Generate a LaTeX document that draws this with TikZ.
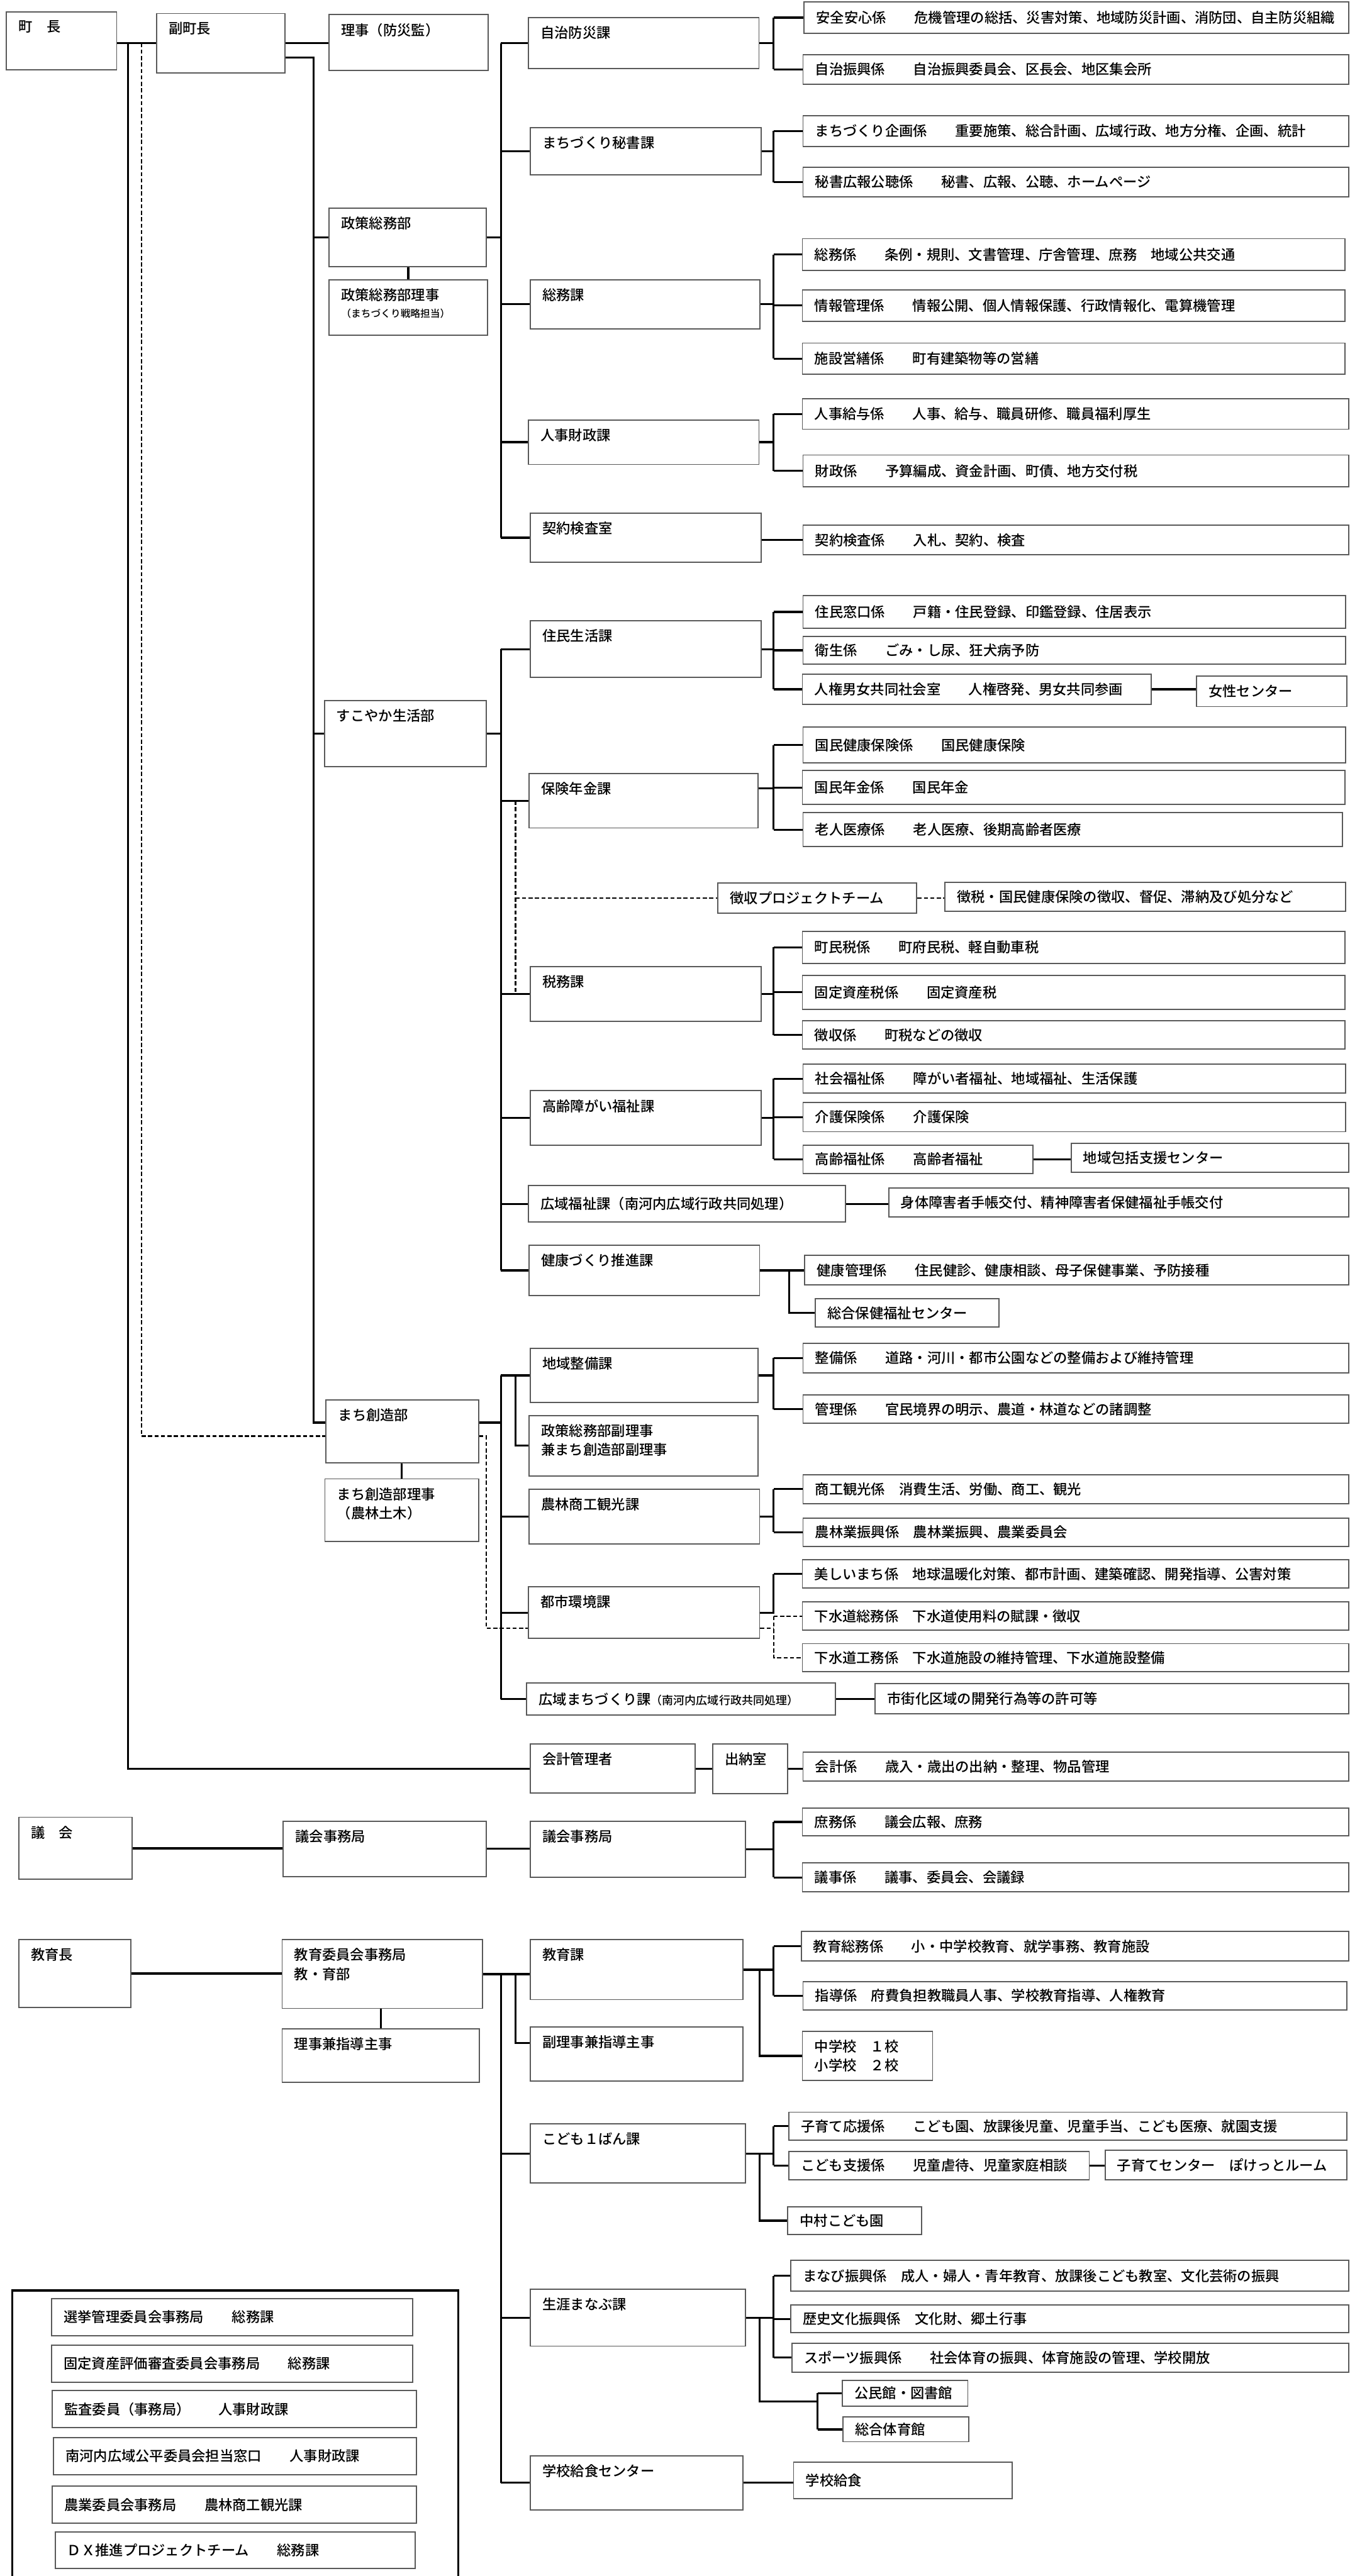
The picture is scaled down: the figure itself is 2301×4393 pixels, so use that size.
\documentclass[tikz,border=0pt]{standalone}
\usepackage{fontspec}
\setmainfont{Noto Sans CJK JP}[UprightFont=* Medium]
\usetikzlibrary{fit}
\newcommand{\smallnote}[1]{{\fontsize{4.8pt}{6pt}\selectfont #1}}
\newcommand{\midnote}[1]{{\fontsize{5.5pt}{7pt}\selectfont #1}}
\begin{document}
\begin{tikzpicture}[x=0.1mm, y=-0.1mm,
    font=\fontsize{6.8pt}{9.2pt}\selectfont,
    box/.style={draw=black!65, line width=0.2mm, inner sep=0pt},
    tl/.style={anchor=north west, inner sep=0pt, xshift=2.1mm, yshift=-1.5mm, align=left},
    ml/.style={anchor=west, inner sep=0pt, xshift=2.1mm, align=left},
    link/.style={line width=0.34mm},
    dlink/.style={line width=0.24mm, dash pattern=on 0.7mm off 0.4mm}]
    \useasboundingbox[fill=white] (0,0) rectangle (2301,4393);

    \node[box, fit={(11,20) (199,119)}, label={[tl]north west:町　長}] (chou) {};
    \node[box, fit={(267,23) (486,124)}, label={[tl]north west:副町長}] (fuku) {};
    \node[box, fit={(561,25) (832,120)}, label={[tl]north west:理事（防災監）}] (riji) {};
    \node[box, fit={(561,355) (829,455)}, label={[tl]north west:政策総務部}] (seisaku) {};
    \node[box, fit={(561,477) (831,572)}, label={[tl]north west:{政策総務部理事\\[-0.3mm]\smallnote{（まちづくり戦略担当）}}}] (sriji) {};
    \node[box, fit={(553,1195) (829,1307)}, label={[tl]north west:すこやか生活部}] (sukoyaka) {};
    \node[box, fit={(556,2387) (816,2495)}, label={[tl]north west:まち創造部}] (machi) {};
    \node[box, fit={(554,2522) (816,2629)}, label={[tl]north west:{まち創造部理事\\（農林土木）}}] (mriji) {};
    \node[box, fit={(32,3099) (225,3205)}, label={[tl]north west:議　会}] (gikai) {};
    \node[box, fit={(483,3106) (829,3200)}, label={[tl]north west:議会事務局}] (gjimu) {};
    \node[box, fit={(32,3308) (223,3423)}, label={[tl]north west:教育長}] (kyouikuchou) {};
    \node[box, fit={(481,3308) (823,3425)}, label={[tl]north west:{教育委員会事務局\\教・育部}}] (kiyoui) {};
    \node[box, fit={(481,3460) (817,3551)}, label={[tl]north west:理事兼指導主事}] (kriji) {};

    \node[box, fit={(901,30) (1294,117)}, label={[tl]north west:自治防災課}] (jichi) {};
    \node[box, fit={(904,218) (1298,298)}, label={[tl]north west:まちづくり秘書課}] (hisho) {};
    \node[box, fit={(904,477) (1296,561)}, label={[tl]north west:総務課}] (soumu) {};
    \node[box, fit={(901,716) (1294,792)}, label={[tl]north west:人事財政課}] (jinji) {};
    \node[box, fit={(904,875) (1298,959)}, label={[tl]north west:契約検査室}] (keiyaku) {};
    \node[box, fit={(904,1059) (1298,1155)}, label={[tl]north west:住民生活課}] (juumin) {};
    \node[box, fit={(902,1319) (1292,1412)}, label={[tl]north west:保険年金課}] (hoken) {};
    \node[box, fit={(904,1648) (1298,1742)}, label={[tl]north west:税務課}] (zeimu) {};
    \node[box, fit={(904,1860) (1298,1953)}, label={[tl]north west:高齢障がい福祉課}] (koureika) {};
    \node[box, fit={(901,2022) (1441,2084)}, label={[ml]west:広域福祉課（南河内広域行政共同処理）}] (kouikif) {};
    \node[box, fit={(902,2124) (1295,2209)}, label={[tl]north west:健康づくり推進課}] (kenkou) {};
    \node[box, fit={(904,2299) (1292,2392)}, label={[tl]north west:地域整備課}] (chiiki) {};
    \node[box, fit={(902,2414) (1292,2517)}, label={[tl]north west:{政策総務部副理事\\兼まち創造部副理事}}] (fukuriji) {};
    \node[box, fit={(902,2540) (1295,2633)}, label={[tl]north west:農林商工観光課}] (nourin) {};
    \node[box, fit={(901,2706) (1295,2794)}, label={[tl]north west:都市環境課}] (toshi) {};
    \node[box, fit={(898,2870) (1424,2925)}, label={[ml]west:広域まちづくり課\midnote{（南河内広域行政共同処理）}}] (kouikim) {};
    \node[box, fit={(904,2974) (1185,3058)}, label={[tl]north west:会計管理者}] (kaikeik) {};
    \node[box, fit={(904,3106) (1271,3201)}, label={[tl]north west:議会事務局}] (gjimu2) {};
    \node[box, fit={(904,3308) (1267,3410)}, label={[tl]north west:教育課}] (kyouikuka) {};
    \node[box, fit={(904,3457) (1267,3549)}, label={[tl]north west:副理事兼指導主事}] (fukuriji2) {};
    \node[box, fit={(904,3622) (1271,3723)}, label={[tl]north west:こども１ばん課}] (kodomo) {};
    \node[box, fit={(904,3904) (1271,4001)}, label={[tl]north west:生涯まなぶ課}] (shougai) {};
    \node[box, fit={(904,4188) (1267,4280)}, label={[tl]north west:学校給食センター}] (kyuushoku) {};

    \node[box, fit={(1371,3) (2299,57)}, label={[ml]west:安全安心係　　危機管理の総括、災害対策、地域防災計画、消防団、自主防災組織}] (anzen) {};
    \node[box, fit={(1369,93) (2299,144)}, label={[ml]west:自治振興係　　自治振興委員会、区長会、地区集会所}] (jishin) {};
    \node[box, fit={(1369,197) (2299,250)}, label={[ml]west:まちづくり企画係　　重要施策、総合計画、広域行政、地方分権、企画、統計}] (kikaku) {};
    \node[box, fit={(1369,285) (2299,336)}, label={[ml]west:秘書広報公聴係　　秘書、広報、公聴、ホームページ}] (hishokk) {};
    \node[box, fit={(1368,407) (2293,461)}, label={[ml]west:総務係　　条例・規則、文書管理、庁舎管理、庶務　地域公共交通}] (soumuk) {};
    \node[box, fit={(1368,494) (2293,548)}, label={[ml]west:情報管理係　　情報公開、個人情報保護、行政情報化、電算機管理}] (jouhou) {};
    \node[box, fit={(1368,585) (2293,638)}, label={[ml]west:施設営繕係　　町有建築物等の営繕}] (shisetsu) {};
    \node[box, fit={(1368,680) (2299,732)}, label={[ml]west:人事給与係　　人事、給与、職員研修、職員福利厚生}] (jinjik) {};
    \node[box, fit={(1369,776) (2299,830)}, label={[ml]west:財政係　　予算編成、資金計画、町債、地方交付税}] (zaisei) {};
    \node[box, fit={(1369,896) (2299,946)}, label={[ml]west:契約検査係　　入札、契約、検査}] (keiyakuk) {};
    \node[box, fit={(1369,1016) (2294,1071)}, label={[ml]west:住民窓口係　　戸籍・住民登録、印鑑登録、住居表示}] (madoguchi) {};
    \node[box, fit={(1369,1085) (2294,1133)}, label={[ml]west:衛生係　　ごみ・し尿、狂犬病予防}] (eisei) {};
    \node[box, fit={(1368,1150) (1963,1201)}, label={[ml]west:人権男女共同社会室　　人権啓発、男女共同参画}] (jinken) {};
    \node[box, fit={(2040,1153) (2296,1205)}, label={[ml]west:女性センター}] (josei) {};
    \node[box, fit={(1369,1240) (2294,1301)}, label={[ml]west:国民健康保険係　　国民健康保険}] (kokuho) {};
    \node[box, fit={(1368,1314) (2293,1372)}, label={[ml]west:国民年金係　　国民年金}] (nenkin) {};
    \node[box, fit={(1369,1386) (2289,1444)}, label={[ml]west:老人医療係　　老人医療、後期高齢者医療}] (roujin) {};
    \node[box, fit={(1224,1506) (1563,1557)}, label={[ml]west:徴収プロジェクトチーム}] (choushupt) {};
    \node[box, fit={(1611,1505) (2294,1554)}, label={[ml]west:徴税・国民健康保険の徴収、督促、滞納及び処分など}] (choushud) {};
    \node[box, fit={(1368,1588) (2293,1643)}, label={[ml]west:町民税係　　町府民税、軽自動車税}] (choumin) {};
    \node[box, fit={(1368,1663) (2293,1721)}, label={[ml]west:固定資産税係　　固定資産税}] (kotei) {};
    \node[box, fit={(1368,1741) (2293,1789)}, label={[ml]west:徴収係　　町税などの徴収}] (choushuk) {};
    \node[box, fit={(1369,1815) (2294,1864)}, label={[ml]west:社会福祉係　　障がい者福祉、地域福祉、生活保護}] (shakai) {};
    \node[box, fit={(1369,1880) (2294,1930)}, label={[ml]west:介護保険係　　介護保険}] (kaigo) {};
    \node[box, fit={(1369,1953) (1761,2001)}, label={[ml]west:高齢福祉係　　高齢者福祉}] (koureik) {};
    \node[box, fit={(1826,1950) (2299,1999)}, label={[ml]west:地域包括支援センター}] (houkatsu) {};
    \node[box, fit={(1515,2026) (2299,2075)}, label={[ml]west:身体障害者手帳交付、精神障害者保健福祉手帳交付}] (techou) {};
    \node[box, fit={(1372,2141) (2299,2191)}, label={[ml]west:健康管理係　　住民健診、健康相談、母子保健事業、予防接種}] (kenkouk) {};
    \node[box, fit={(1390,2215) (1703,2263)}, label={[ml]west:総合保健福祉センター}] (sougou) {};
    \node[box, fit={(1369,2291) (2299,2341)}, label={[ml]west:整備係　　道路・河川・都市公園などの整備および維持管理}] (seibi) {};
    \node[box, fit={(1369,2379) (2299,2427)}, label={[ml]west:管理係　　官民境界の明示、農道・林道などの諸調整}] (kanri) {};
    \node[box, fit={(1369,2515) (2299,2564)}, label={[ml]west:商工観光係　消費生活、労働、商工、観光}] (shoukou) {};
    \node[box, fit={(1369,2589) (2299,2637)}, label={[ml]west:農林業振興係　農林業振興、農業委員会}] (nourink) {};
    \node[box, fit={(1368,2660) (2299,2708)}, label={[ml]west:美しいまち係　地球温暖化対策、都市計画、建築確認、開発指導、公害対策}] (utsukushii) {};
    \node[box, fit={(1368,2732) (2299,2780)}, label={[ml]west:下水道総務係　下水道使用料の賦課・徴収}] (gesuis) {};
    \node[box, fit={(1368,2803) (2299,2851)}, label={[ml]west:下水道工務係　下水道施設の維持管理、下水道施設整備}] (gesuik) {};
    \node[box, fit={(1492,2871) (2299,2923)}, label={[ml]west:市街化区域の開発行為等の許可等}] (kyoka) {};
    \node[box, fit={(1215,2974) (1343,3059)}, label={[tl]north west:出納室}] (suitou) {};
    \node[box, fit={(1369,2988) (2299,3037)}, label={[ml]west:会計係　　歳入・歳出の出納・整理、物品管理}] (kaikeikk) {};
    \node[box, fit={(1368,3083) (2299,3131)}, label={[ml]west:庶務係　　議会広報、庶務}] (shomu) {};
    \node[box, fit={(1368,3177) (2299,3226)}, label={[ml]west:議事係　　議事、委員会、会議録}] (giji) {};
    \node[box, fit={(1366,3294) (2299,3344)}, label={[ml]west:教育総務係　　小・中学校教育、就学事務、教育施設}] (kyoikusoumu) {};
    \node[box, fit={(1369,3379) (2296,3428)}, label={[ml]west:指導係　府費負担教職員人事、学校教育指導、人権教育}] (shidou) {};
    \node[box, fit={(1368,3464) (1590,3548)}, label={[ml]west:{中学校　１校\\小学校　２校}}] (gakkou) {};
    \node[box, fit={(1345,3602) (2296,3650)}, label={[ml]west:子育て応援係　　こども園、放課後児童、児童手当、こども医療、就園支援}] (kosodate) {};
    \node[box, fit={(1345,3669) (1857,3717)}, label={[ml]west:こども支援係　　児童虐待、児童家庭相談}] (kodomoshien) {};
    \node[box, fit={(1884,3667) (2296,3717)}, label={[ml]west:子育てセンター　ぽけっとルーム}] (pocket) {};
    \node[box, fit={(1343,3763) (1571,3811)}, label={[ml]west:中村こども園}] (nakamura) {};
    \node[box, fit={(1348,3855) (2299,3907)}, label={[ml]west:まなび振興係　成人・婦人・青年教育、放課後こども教室、文化芸術の振興}] (manabi) {};
    \node[box, fit={(1348,3931) (2299,3978)}, label={[ml]west:歴史文化振興係　文化財、郷土行事}] (rekishi) {};
    \node[box, fit={(1350,3996) (2299,4045)}, label={[ml]west:スポーツ振興係　　社会体育の振興、体育施設の管理、学校開放}] (sports) {};
    \node[box, fit={(1436,4059) (1650,4103)}, label={[ml]west:公民館・図書館}] (kouminkan) {};
    \node[box, fit={(1437,4122) (1652,4164)}, label={[ml]west:総合体育館}] (taiikukan) {};
    \node[box, fit={(1353,4199) (1726,4261)}, label={[ml]west:学校給食}] (kyuushokuk) {};

    \draw[line width=0.34mm] (21,4393) -- (21,3906) -- (781,3906) -- (781,4393);
    \node[box, fit={(88,3920) (704,3983)}, label={[ml]west:選挙管理委員会事務局　　総務課}] (senkyo) {};
    \node[box, fit={(88,3999) (704,4063)}, label={[ml]west:固定資産評価審査委員会事務局　　総務課}] (koteihyouka) {};
    \node[box, fit={(89,4077) (710,4140)}, label={[ml]west:監査委員（事務局）　　人事財政課}] (kansa) {};
    \node[box, fit={(91,4157) (710,4220)}, label={[ml]west:南河内広域公平委員会担当窓口　　人事財政課}] (kouhei) {};
    \node[box, fit={(89,4240) (710,4303)}, label={[ml]west:農業委員会事務局　　農林商工観光課}] (nougyou) {};
    \node[box, fit={(94,4318) (708,4380)}, label={[ml]west:ＤＸ推進プロジェクトチーム　　総務課}] (dxpt) {};

    \coordinate (m1) at (218,0);
    \coordinate (m2) at (241,0);
    \coordinate (m3) at (535,0);
    \coordinate (t0) at (829,0);
    \coordinate (t1) at (854,0);
    \coordinate (t2) at (879,0);
    \coordinate (k2) at (1295,0);
    \coordinate (k1) at (1319,0);
    \coordinate (k3) at (1345,0);
    \coordinate (sgj) at (1394,4095);
    \coordinate (fukuB) at ([yshift=-2.5mm]fuku.east);
    \coordinate (machiA) at ([yshift=1.5mm]machi.west);
    \coordinate (machiL) at ([yshift=-0.8mm]machi.west);
    \coordinate (machiR) at ([yshift=-0.8mm]machi.east);
    \coordinate (toshiL) at ([yshift=-2.7mm]toshi.west);
    \coordinate (toshiR) at ([yshift=-2.7mm]toshi.east);
    \coordinate (hokenR) at ([yshift=2.1mm]hoken.east);
    \coordinate (fr2) at ([yshift=1.9mm]fukuriji2.west);

    \draw[link] (chou.east |- fuku.west) -- (fuku.west);
    \draw[link] (fuku.west -| m1) -- (kaikeik.west -| m1) -- (kaikeik.west);
    \draw[dlink] (fuku.west -| m2) -- (m2 |- machiL) -- (machiL);
    \draw[dlink] (machiR) -- (t0 |- machiR) -- (t0 |- toshiL) -- (toshiL);
    \draw[link] (fuku.east) -- (fuku.east -| riji.west);
    \draw[link] (fukuB) -- (m3 |- fukuB) -- (m3 |- machiA) -- (machiA);
    \draw[link] (seisaku.west -| m3) -- (seisaku.west);
    \draw[link] (sukoyaka.west -| m3) -- (sukoyaka.west);
    \draw[link] (seisaku.south -| sriji.north) -- (sriji.north);
    \draw[link] (machi.south -| mriji.north) -- (mriji.north);

    \draw[link] (seisaku.east) -- (seisaku.east -| t1);
    \draw[link] (jichi.west -| t1) -- (keiyaku.west -| t1);
    \draw[link] (sukoyaka.east) -- (sukoyaka.east -| t1);
    \draw[link] (juumin.west -| t1) -- (kenkou.west -| t1);
    \draw[link] (machiA -| machi.east) -- (machiA -| t1);
    \draw[link] (chiiki.west -| t1) -- (kouikim.west -| t1);
    \draw[link] (kiyoui.east) -- (kiyoui.east -| kyouikuka.west);
    \draw[link] (kiyoui.east -| t1) -- (kyuushoku.west -| t1);
    \foreach \n in {jichi,hisho,soumu,jinji,keiyaku,juumin,hoken,zeimu,koureika,kouikif,kenkou,chiiki,nourin,toshi,kouikim,kodomo,shougai,kyuushoku}
        \draw[link] (\n.west -| t1) -- (\n.west);
    \draw[link] (chiiki.west -| t2) -- (fukuriji.west -| t2) -- (fukuriji.west);
    \draw[link] (kiyoui.east -| t2) -- (fr2 -| t2) -- (fr2);
    \draw[dlink] (hoken.west -| t2) -- (zeimu.west -| t2);
    \draw[dlink] (choushupt.west -| t2) -- (choushupt.west);
    \draw[dlink] (choushupt.east) -- (choushupt.east -| choushud.west);

    \draw[link] (gikai.east) -- (gikai.east -| gjimu.west);
    \draw[link] (gjimu.east) -- (gjimu.east -| gjimu2.west);
    \draw[link] (kyouikuchou.east) -- (kyouikuchou.east -| kiyoui.west);
    \draw[link] (kiyoui.south -| kriji.north) -- (kriji.north);

    \foreach \p/\a/\b in {jichi/anzen/jishin, hisho/kikaku/hishokk, soumu/soumuk/shisetsu, jinji/jinjik/zaisei, juumin/madoguchi/jinken, zeimu/choumin/choushuk, koureika/shakai/koureik, chiiki/seibi/kanri, nourin/shoukou/nourink, gjimu2/shomu/giji, kyouikuka/kyoikusoumu/shidou, kodomo/kosodate/kodomoshien, shougai/manabi/sports} {
        \draw[link] (\p.east) -- (\p.east -| k1);
        \draw[link] (\a.west -| k1) -- (\b.west -| k1);
    }
    \draw[link] (hokenR) -- (hokenR -| k1);
    \draw[link] (kokuho.west -| k1) -- (roujin.west -| k1);
    \draw[link] (toshi.east) -- (toshi.east -| k1) -- (utsukushii.west -| k1);
    \foreach \n in {anzen,jishin,kikaku,hishokk,soumuk,jouhou,shisetsu,jinjik,zaisei,madoguchi,eisei,jinken,kokuho,nenkin,roujin,choumin,kotei,choushuk,shakai,kaigo,koureik,seibi,kanri,shoukou,nourink,utsukushii,shomu,giji,kyoikusoumu,shidou,kosodate,kodomoshien,manabi,rekishi,sports}
        \draw[link] (\n.west -| k1) -- (\n.west);
    \draw[dlink] (gesuis.west -| k1) -- (gesuis.west);
    \draw[dlink] (toshiR) -- (toshiR -| k1);
    \draw[dlink] (gesuis.west -| k1) -- (gesuik.west -| k1) -- (gesuik.west);

    \draw[link] (keiyakuk.west -| keiyaku.east) -- (keiyakuk.west);
    \draw[link] (jinken.east) -- (jinken.east -| josei.west);
    \draw[link] (koureik.east) -- (koureik.east -| houkatsu.west);
    \draw[link] (kouikif.east) -- (kouikif.east -| techou.west);
    \draw[link] (kenkou.east) -- (kenkou.east -| kenkouk.west);
    \draw[link] (kenkou.east -| k3) -- (sougou.west -| k3) -- (sougou.west);
    \draw[link] (kouikim.east) -- (kouikim.east -| kyoka.west);
    \draw[link] (kaikeik.east) -- (kaikeik.east -| suitou.west);
    \draw[link] (suitou.east) -- (suitou.east -| kaikeikk.west);
    \draw[link] (kyouikuka.east -| k2) -- (gakkou.west -| k2) -- (gakkou.west);
    \draw[link] (kodomo.east -| k2) -- (nakamura.west -| k2) -- (nakamura.west);
    \draw[link] (kodomoshien.east) -- (kodomoshien.east -| pocket.west);
    \draw[link] (shougai.east -| k2) -- (k2 |- sgj) -- (sgj);
    \draw[link] (kouminkan.west -| sgj) -- (taiikukan.west -| sgj);
    \foreach \n in {kouminkan,taiikukan}
        \draw[link] (\n.west -| sgj) -- (\n.west);
    \draw[link] (kyuushoku.east) -- (kyuushoku.east -| kyuushokuk.west);
\end{tikzpicture}
\end{document}
